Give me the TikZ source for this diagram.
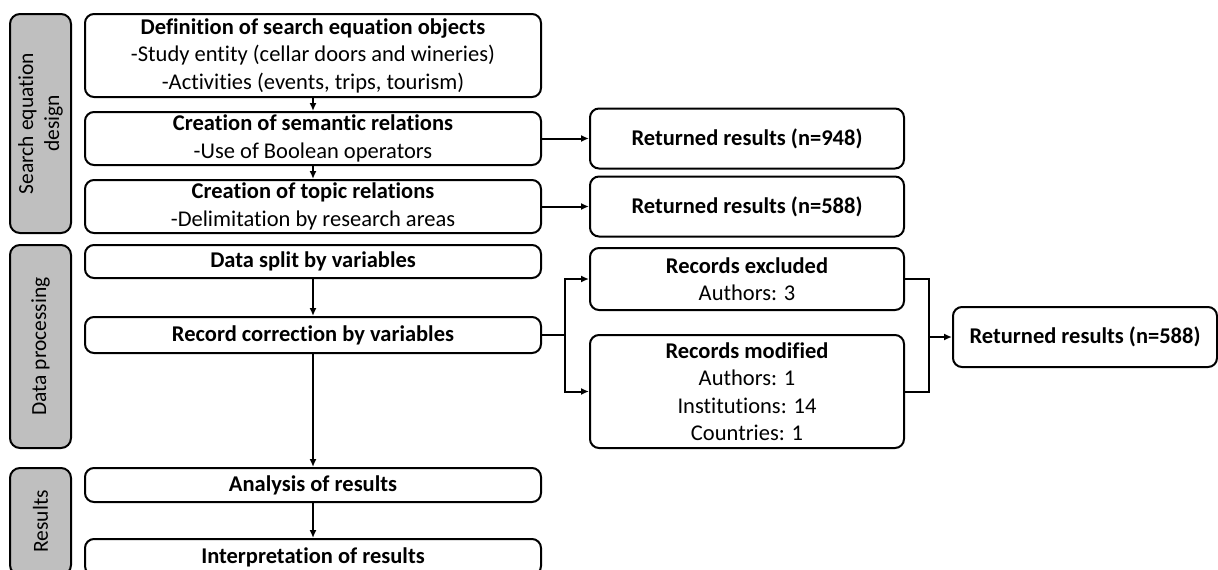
\documentclass[tikz,border=0pt]{standalone}
\usepackage{fontspec}
\setmainfont{Carlito}[Ligatures=NoCommon]
\usetikzlibrary{arrows.meta}

\begin{document}
\begin{tikzpicture}[x=1pt,y=-1pt,>={Latex[length=8pt,width=7pt]},line width=2pt,
    box/.style={draw,rounded corners=9pt,align=center,inner sep=0pt,
        font=\fontsize{22.5}{27.5}\selectfont},
    stage/.style={draw,fill=gray!50,rounded corners=10pt,rotate=90,align=center,
        inner sep=0pt,minimum height=61pt,font=\fontsize{21.5}{26}\selectfont}]
    \useasboundingbox (0,0) rectangle (1218,570);
    % 左侧阶段
    \node[stage,minimum width=219pt] (design) at (40.5,123.5) {Search equation\\design};
    \node[stage,minimum width=203pt] (proc) at (40.5,346.5) {Data processing};
    \node[stage,minimum width=107pt] (res) at (40.5,521.5) {Results};
    % 主流程
    \node[box,minimum width=456pt,minimum height=83pt] (defn) at (313,55.5) {\textbf{Definition of search equation objects}\\-Study entity (cellar doors and wineries)\\-Activities (events, trips, tourism)};
    \node[box,minimum width=456pt,minimum height=53pt] (sem) at (313,138.5) {\textbf{Creation of semantic relations}\\-Use of Boolean operators};
    \node[box,minimum width=456pt,minimum height=53pt] (topic) at (313,206.5) {\textbf{Creation of topic relations}\\-Delimitation by research areas};
    \node[box,minimum width=456pt,minimum height=33pt] (split) at (313,261.5) {\textbf{Data split by variables}};
    \node[box,minimum width=456pt,minimum height=36pt] (corr) at (313,335) {\textbf{Record correction by variables}};
    \node[box,minimum width=456pt,minimum height=34pt] (anal) at (313,485) {\textbf{Analysis of results}};
    \node[box,minimum width=456pt,minimum height=36pt] (interp) at (313,557) {\textbf{Interpretation of results}};
    % 右侧结果
    \node[box,minimum width=314pt,minimum height=60pt] (ret948) at (747,138.5) {\textbf{Returned results (n=948)}};
    \node[box,minimum width=314pt,minimum height=60pt] (ret588) at (747,206.5) {\textbf{Returned results (n=588)}};
    \node[box,minimum width=314pt,minimum height=62pt] (excl) at (747,279) {\textbf{Records excluded}\\Authors: 3};
    \node[box,minimum width=314pt,minimum height=113pt] (modif) at (747,391.5) {\textbf{Records modified}\\Authors: 1\\Institutions: 14\\Countries: 1};
    \node[box,minimum width=264pt,minimum height=60pt] (final) at (1085,337) {\textbf{Returned results (n=588)}};
    % 箭头
    \draw[->] (defn) -- (sem);
    \draw[->] (sem) -- (topic);
    \draw[->] (split) -- (corr);
    \draw[->] (corr) -- (anal);
    \draw[->] (anal) -- (interp);
    \draw[->] (sem) -- (ret948);
    \draw[->] (topic) -- (ret588);
    \coordinate (fork) at (565,335);
    \draw (corr) -- (fork);
    \draw[->] (fork) |- (excl);
    \draw[->] (fork) |- (modif);
    \coordinate (join) at (929,337);
    \draw (excl) -| (join) |- (modif);
    \draw[->] (join) -- (final);
\end{tikzpicture}
\end{document}
